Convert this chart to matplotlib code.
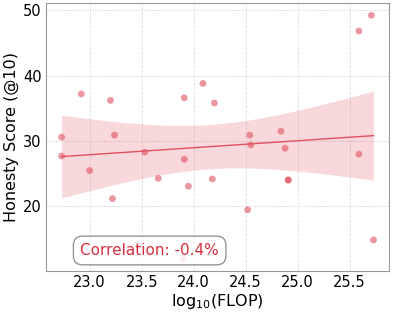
import matplotlib
matplotlib.use("Agg")
from matplotlib import pyplot as plt
import numpy as np

log_flop = [22.73, 22.92, 23.20, 23.24, 23.91, 24.09, 24.20, 25.71, 25.59,
            24.54, 24.84, 22.73, 23.00, 23.53, 23.91, 23.66, 23.95, 24.18,
            23.22, 23.90, 24.55, 24.88, 25.59, 24.91, 24.91, 24.52, 25.73]
honesty = [30.6, 37.2, 36.2, 30.9, 36.6, 38.8, 35.8, 49.2, 46.8,
           30.9, 31.5, 27.7, 25.5, 28.3, 27.2, 24.3, 23.1, 24.2,
           21.2, 12.0, 29.4, 28.9, 28.0, 24.0, 24.1, 19.5, 14.9]
corr_label = "Correlation: -0.4%"

red = "#e0505f"

x = np.array(log_flop)
y = np.array(honesty)

fig = plt.figure(figsize=(3.93, 3.13), dpi=100)
ax = fig.add_axes([0.117, 0.134, 0.873, 0.856])

# linear fit with 95% confidence band
slope, icpt = np.polyfit(x, y, 1)
xs = np.linspace(x.min(), x.max(), 100)
ys = slope * xs + icpt
n = len(x)
resid = y - (slope * x + icpt)
s = np.sqrt(np.sum(resid ** 2) / (n - 2))
se = s * np.sqrt(1 / n + (xs - x.mean()) ** 2 / np.sum((x - x.mean()) ** 2))
t = 2.06
ax.fill_between(xs, ys - t * se, ys + t * se, color=red, alpha=0.22, lw=0)
ax.plot(xs, ys, color=red, lw=1.0)

ax.scatter(x, y, color=red, alpha=0.6, s=24, edgecolors="none", zorder=3)

ax.grid(True, linestyle="--", color="#dddddd", lw=0.6)
ax.set_axisbelow(True)
for sp in ax.spines.values():
    sp.set_color("#999999")
ax.tick_params(length=0, labelsize=10.5, pad=3)
ax.set_xticks([23.0, 23.5, 24.0, 24.5, 25.0, 25.5])
ax.set_yticks([20, 30, 40, 50])

ax.set_xlabel(r"log$_{10}$(FLOP)", fontsize=11.5, labelpad=1)
ax.set_ylabel("Honesty Score (@10)", fontsize=11.5, labelpad=3)

ax.text(0.10, 0.06, corr_label, transform=ax.transAxes, fontsize=11,
        color="#d8303f", zorder=5,
        bbox=dict(boxstyle="round,pad=0.45,rounding_size=0.6",
                  facecolor="white", alpha=0.85, edgecolor="#777777", lw=0.9))

fig.savefig("out.png", dpi=100)
